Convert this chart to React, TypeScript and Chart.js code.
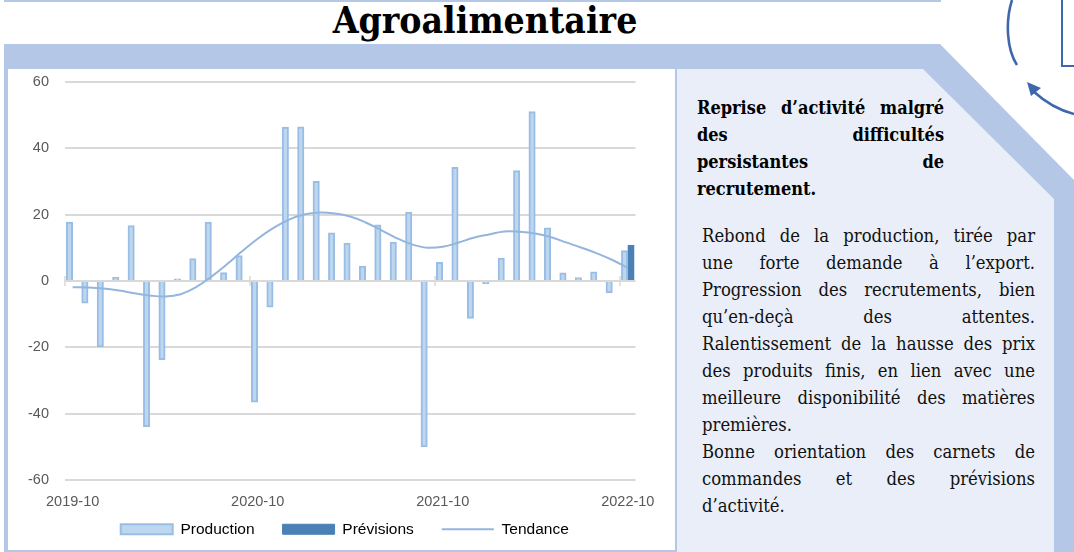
import React, { useEffect, useRef } from "react";
import { Chart, registerables } from "chart.js";

Chart.register(...registerables);

const categories = [
  "2019-10","2019-11","2019-12","2020-01","2020-02","2020-03","2020-04","2020-05","2020-06","2020-07","2020-08","2020-09",
  "2020-10","2020-11","2020-12","2021-01","2021-02","2021-03","2021-04","2021-05","2021-06","2021-07","2021-08","2021-09",
  "2021-10","2021-11","2021-12","2022-01","2022-02","2022-03","2022-04","2022-05","2022-06","2022-07","2022-08","2022-09",
  "2022-10",
];
const production = [
  17.7,-6.7,-19.9,1.1,16.7,-43.9,-23.7,0.6,6.7,17.7,2.5,7.6,
  -36.5,-7.9,46.3,46.4,30,14.5,11.4,4.5,16.9,11.7,20.7,-50,
  5.6,34.2,-11.3,-0.8,6.9,33.2,51,16,2.4,1,2.7,-3.6,9.1,
];
const previsions = [
  null,null,null,null,null,null,null,null,null,null,null,null,
  null,null,null,null,null,null,null,null,null,null,null,null,
  null,null,null,null,null,null,null,null,null,null,null,null,10.7,
];
const tendance = [
  -1.9,-2,-2.3,-2.9,-3.7,-4.4,-4.7,-4,-1.9,1.3,5,9,
  12.7,15.9,18.4,20,20.6,20.3,19.4,17.6,15.3,12.9,11,10,
  10.3,11.5,13,14,14.9,14.8,14.3,13.2,11.6,10,8.3,6.3,3.9,
];
const yTicks = [60, 40, 20, 0, -20, -40, -60];
const headline = ["Reprise d’activité malgré", "des difficultés", "persistantes de", "recrutement."];
const bodyLines: [string, boolean][] = [
  ["Rebond de la production, tirée par", true],
  ["une forte demande à l’export.", true],
  ["Progression des recrutements, bien", true],
  ["qu’en-deçà des attentes.", true],
  ["Ralentissement de la hausse des prix", true],
  ["des produits finis, en lien avec une", true],
  ["meilleure disponibilité des matières", true],
  ["premières.", false],
  ["Bonne orientation des carnets de", true],
  ["commandes et des prévisions", true],
  ["d’activité.", false],
];

const FRAME = "#B4C7E7";
const PANEL = "#E9EEF8";
const GRID = "#D9D9D9";
const TEXT = "#595959";
const SANS = "'Liberation Sans', Arial, sans-serif";
const SERIF = "'DejaVu Serif', serif";

const chartExtras = {
  id: "chartExtras",
  afterLayout(chart: any) {
    chart.legend.top -= 30;
    chart.legend.left += 21;
    chart.legend.right += 21;
  },
  afterDatasetsDraw(chart: any) {
    const x = chart.scales.x;
    const y0 = chart.scales.y.getPixelForValue(0);
    const step = x.getPixelForValue(1) - x.getPixelForValue(0);
    const { ctx } = chart;
    ctx.save();
    ctx.strokeStyle = GRID;
    ctx.lineWidth = 1.5;
    categories.forEach((_, i) => {
      if (i % 12 !== 0) return;
      const px = x.getPixelForValue(i) - step / 2;
      ctx.beginPath();
      ctx.moveTo(px, y0 - 5);
      ctx.lineTo(px, y0 + 5);
      ctx.stroke();
    });
    ctx.restore();
  },
};

export default function App() {
  const ref = useRef<HTMLCanvasElement>(null);
  useEffect(() => {
    const chart = new Chart(ref.current!, {
      type: "bar",
      plugins: [chartExtras],
      data: {
        labels: categories,
        datasets: [
          { label: "Production", data: production, backgroundColor: "#BDD7EE", borderColor: "#9ABDE5", borderWidth: 2, barThickness: 6.4, order: 2 },
          { label: "Prévisions", data: previsions, backgroundColor: "#4A80B5", borderColor: "#4A80B5", borderWidth: 1, barThickness: 6.4, order: 2 },
          { type: "line", label: "Tendance", data: tendance, borderColor: "#93B5DE", backgroundColor: "#93B5DE", borderWidth: 2, pointRadius: 0, tension: 0.4, order: 1 },
        ] as any,
      },
      options: {
        animation: false,
        responsive: false,
        maintainAspectRatio: false,
        layout: { padding: { left: 4, right: 55.5, top: 0, bottom: 0 } },
        scales: {
          x: {
            offset: true,
            grid: { display: false, drawTicks: false },
            border: { display: false },
            ticks: {
              autoSkip: false,
              maxRotation: 0,
              minRotation: 0,
              color: TEXT,
              padding: 13,
              font: { family: SANS, size: 14.5 },
              callback: (_: any, i: number) => (i % 12 === 0 ? categories[i] : ""),
            },
          },
          y: {
            min: -60,
            max: 60,
            afterBuildTicks: (axis: any) => {
              axis.ticks = yTicks.map((value) => ({ value }));
            },
            grid: { color: GRID, lineWidth: 2, drawTicks: false },
            border: { display: false },
            ticks: { color: TEXT, padding: 16, font: { family: SANS, size: 14.5 } },
          },
        },
        plugins: {
          tooltip: { enabled: false },
          legend: {
            position: "bottom",
            labels: {
              usePointStyle: true,
              pointStyleWidth: 52,
              boxHeight: 10,
              padding: 28,
              color: TEXT,
              font: { family: SANS, size: 15.5 },
              generateLabels: () => [
                { text: "Production", fillStyle: "#BDD7EE", strokeStyle: "#9ABDE5", lineWidth: 2, pointStyle: "rect", datasetIndex: 0 },
                { text: "Prévisions", fillStyle: "#4A80B5", strokeStyle: "#4A80B5", lineWidth: 1, pointStyle: "rect", datasetIndex: 1 },
                { text: "Tendance", fillStyle: "#93B5DE", strokeStyle: "#93B5DE", lineWidth: 2, pointStyle: "line", datasetIndex: 2 },
              ],
            },
          },
        },
      },
    } as any);
    return () => chart.destroy();
  }, []);

  const abs = (s: React.CSSProperties): React.CSSProperties => ({ position: "absolute", ...s });

  return (
    <div style={abs({ position: "fixed", left: 0, top: 0, width: 1074, height: 552, background: "#fff", overflow: "hidden" })}>
      <svg width={1074} height={552} style={abs({ left: 0, top: 0 })}>
        <rect x={4} y={0} width={937} height={2} fill={FRAME} />
        <polygon points="4,44 940,44 1074,180 1074,552 4,552" fill={FRAME} />
        <polygon points="677,69 923,69 1054,199 1054,552 677,552" fill={PANEL} />
        <rect x={8} y={69} width={667} height={481} fill="#fff" />
        <path d="M1012 0 C1005 22 1007 50 1017 65" fill="none" stroke="#3F68AC" strokeWidth={2.6} />
        <path d="M1062 0 L1062 66 L1074 66" fill="none" stroke="#3F68AC" strokeWidth={2} />
        <path d="M1033 91 C1045 102 1058 110 1074 114" fill="none" stroke="#3F68AC" strokeWidth={2.6} />
        <polygon points="1027,82 1041,88 1031,96" fill="#3F68AC" />
      </svg>
      <div style={abs({ left: 284, top: -3, width: 402, textAlign: "center", fontFamily: SERIF, fontStretch: "condensed", fontWeight: 700, fontSize: 37, lineHeight: "46px", color: "#000", whiteSpace: "nowrap" })}>
        Agroalimentaire
      </div>
      <canvas ref={ref} width={683} height={520} style={abs({ left: 8, top: 57 })} />
      <div style={abs({ left: 697, top: 93.5, width: 247, fontFamily: SERIF, fontStretch: "condensed", fontWeight: 700, fontSize: 18, lineHeight: "27px", color: "#000" })}>
        {headline.map((t, i) => (
          <div key={i} style={{ textAlign: "justify", textAlignLast: i < 3 ? "justify" : "left", whiteSpace: "nowrap" }}>{t}</div>
        ))}
      </div>
      <div style={abs({ left: 702, top: 222, width: 333, fontFamily: SERIF, fontStretch: "condensed", fontSize: 18.3, lineHeight: "27px", color: "#111" })}>
        {bodyLines.map(([t, j], i) => (
          <div key={i} style={{ textAlign: "justify", textAlignLast: j ? "justify" : "left", whiteSpace: "nowrap" }}>{t}</div>
        ))}
      </div>
    </div>
  );
}
